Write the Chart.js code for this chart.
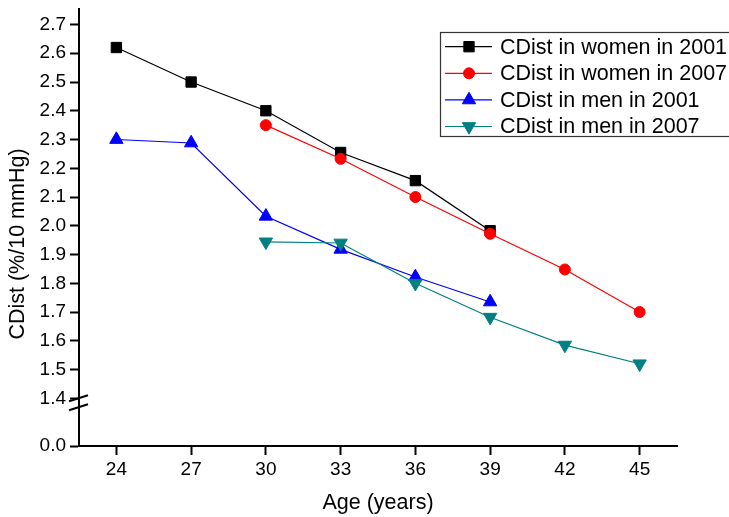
<!DOCTYPE html>
<html>
<head>
<meta charset="utf-8">
<script src="https://cdn.jsdelivr.net/npm/chart.js@4.4.1/dist/chart.umd.min.js"></script>
<style>
  html, body { margin: 0; padding: 0; background: #fff; }
</style>
</head>
<body>
<canvas id="cdistChart" width="729" height="517"></canvas>
<script>
// ages (years) for each series
const agesWomen2001 = [24, 27, 30, 33, 36, 39];
const agesWomen2007 = [30, 33, 36, 39, 42, 45];
const agesMen2001 = [24, 27, 30, 33, 36, 39];
const agesMen2007 = [30, 33, 36, 39, 42, 45];

// CDist (%/10 mmHg)
const cdistWomen2001 = [2.62, 2.50, 2.40, 2.255, 2.157, 1.983];
const cdistWomen2007 = [2.35, 2.233, 2.10, 1.972, 1.848, 1.70];
const cdistMen2001 = [2.30, 2.288, 2.033, 1.918, 1.822, 1.735];
const cdistMen2007 = [1.944, 1.940, 1.80, 1.682, 1.585, 1.52];

const xTicks = [24, 27, 30, 33, 36, 39, 42, 45];
const yTicks = [1.4, 1.5, 1.6, 1.7, 1.8, 1.9, 2.0, 2.1, 2.2, 2.3, 2.4, 2.5, 2.6, 2.7];
// broken axis: the "0.0" tick sits a short gap below 1.4
const yZeroSlot = 1.234;
const yTitle = "CDist (%/10 mmHg)";

const canvas = document.getElementById("cdistChart");

function toPoints(xs, ys) {
  return xs.map((x, i) => ({ x: x, y: ys[i] }));
}

const tickFont = { family: "'Liberation Sans', Arial, sans-serif", size: 19 };
const titleFont = { family: "'Liberation Sans', Arial, sans-serif", size: 21.5 };

// legend with line-through markers, y title and the axis break marks
const extras = {
  id: "extras",
  afterDraw(chart) {
    const ctx = chart.ctx;
    const yScale = chart.scales.y;
    const axisX = chart.chartArea.left;
    const yb = yScale.getPixelForValue(1.4);

    ctx.save();
    ctx.strokeStyle = "#000";
    ctx.lineWidth = 2;
    [0, 9].forEach(off => {
      ctx.beginPath();
      ctx.moveTo(axisX - 10, yb + 3 + off);
      ctx.lineTo(axisX + 9, yb - 3 + off);
      ctx.stroke();
    });

    // y axis title (sits a bit below the scale centre in the original)
    ctx.save();
    ctx.translate(18, 244);
    ctx.rotate(-Math.PI / 2);
    ctx.font = "21.5px 'Liberation Sans', Arial, sans-serif";
    ctx.fillStyle = "#000";
    ctx.textAlign = "center";
    ctx.textBaseline = "middle";
    ctx.fillText(yTitle, 0, 0);
    ctx.restore();

    // legend box
    ctx.lineWidth = 1.2;
    ctx.strokeStyle = "#333";
    ctx.strokeRect(440.5, 32.5, 300, 104);

    ctx.font = "21.5px 'Liberation Sans', Arial, sans-serif";
    ctx.textBaseline = "middle";
    ctx.textAlign = "left";
    chart.data.datasets.forEach((ds, i) => {
      const rowY = 46.7 + i * 26.6;
      ctx.strokeStyle = ds.borderColor;
      ctx.lineWidth = ds.borderWidth;
      ctx.beginPath();
      ctx.moveTo(445, rowY);
      ctx.lineTo(492, rowY);
      ctx.stroke();
      ctx.fillStyle = ds.pointBackgroundColor;
      ctx.strokeStyle = ds.pointBorderColor;
      ctx.lineWidth = ds.pointBorderWidth;
      Chart.helpers.drawPoint(ctx, {
        pointStyle: ds.pointStyle,
        rotation: ds.pointRotation || 0,
        radius: ds.pointRadius,
        borderWidth: ds.pointBorderWidth
      }, 469, rowY);
      ctx.fillStyle = "#000";
      ctx.fillText(ds.label, 500, rowY + 1);
    });
    ctx.restore();
  }
};

function series(label, pts, color, style, radius, rotation, order) {
  return {
    label: label,
    data: pts,
    borderColor: color,
    borderWidth: 1.2,
    pointStyle: style,
    pointRadius: radius,
    pointHoverRadius: radius,
    pointRotation: rotation,
    pointBackgroundColor: color,
    pointBorderColor: color,
    pointBorderWidth: 1,
    fill: false,
    tension: 0,
    order: order
  };
}

const chart = new Chart(canvas, {
  type: "line",
  data: {
    datasets: [
      series("CDist in women in 2001", toPoints(agesWomen2001, cdistWomen2001), "#000000", "rect", 7.3, 0, 4),
      series("CDist in women in 2007", toPoints(agesWomen2007, cdistWomen2007), "#ff0000", "circle", 5.5, 0, 3),
      series("CDist in men in 2001", toPoints(agesMen2001, cdistMen2001), "#0000ff", "triangle", 7.7, 0, 2),
      series("CDist in men in 2007", toPoints(agesMen2007, cdistMen2007), "#008080", "triangle", 7.7, 180, 1)
    ]
  },
  plugins: [extras],
  options: {
    responsive: false,
    animation: false,
    devicePixelRatio: 1,
    layout: { padding: { top: 8, right: 52, left: 0, bottom: 0 } },
    plugins: {
      legend: { display: false },
      tooltip: { enabled: false }
    },
    scales: {
      x: {
        type: "linear",
        min: 22.5,
        max: 46.5,
        afterBuildTicks: scale => { scale.ticks = xTicks.map(v => ({ value: v })); },
        afterFit: scale => { scale.height = 71; scale.paddingLeft = 0; scale.paddingRight = 0; },
        grid: { drawOnChartArea: false, drawTicks: true, tickLength: 9, tickWidth: 2, color: "#000" },
        border: { display: true, color: "#000", width: 2 },
        ticks: { color: "#000", font: tickFont, padding: 3, maxRotation: 0 },
        title: { display: true, text: "Age (years)", color: "#000", font: titleFont, padding: { top: 0, bottom: 1 } }
      },
      y: {
        type: "linear",
        min: yZeroSlot,
        max: 2.755,
        afterBuildTicks: scale => {
          scale.ticks = [{ value: yZeroSlot }].concat(yTicks.map(v => ({ value: v })));
        },
        afterFit: scale => { scale.width = 79; scale.paddingTop = 0; scale.paddingBottom = 0; },
        grid: { drawOnChartArea: false, drawTicks: true, tickLength: 9, tickWidth: 2, color: "#000" },
        border: { display: true, color: "#000", width: 2 },
        ticks: {
          color: "#000",
          font: tickFont,
          padding: 4,
          callback: v => (v === yZeroSlot ? "0.0" : v.toFixed(1))
        },
        title: { display: false }
      }
    }
  }
});
</script>
</body>
</html>
